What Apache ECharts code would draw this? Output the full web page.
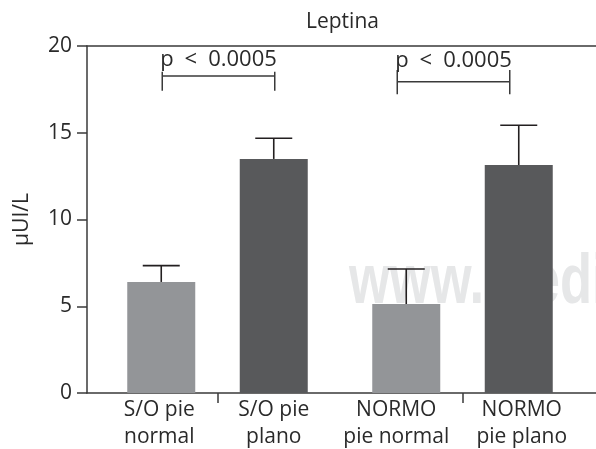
<!DOCTYPE html>
<html><head><meta charset="utf-8">
<script src="https://cdn.jsdelivr.net/npm/echarts@6/dist/echarts.min.js"></script>
<style>html,body{margin:0;padding:0;background:#fff}#c{width:596px;height:449px}</style>
</head><body><div id="c"></div>
<script>
// ---- data ----
const groups = ['S/O', 'NORMO'];
const seriesNames = ['pie normal', 'pie plano'];
const labelsNormal = ['S/O pie\nnormal', 'NORMO\npie normal'];
const labelsPlano = ['S/O pie\nplano', 'NORMO\npie plano'];
const meanNormal = [6.40, 5.13];
const meanPlano = [13.49, 13.14];
const sdNormal = [0.94, 2.02];
const sdPlano = [1.19, 2.29];
const yMin = 0, yMax = 20, yStep = 5;
const pTexts = ['p\u2002<\u20020.0005', 'p\u2002<\u20020.0005'];
const bracketTop = [18.52, 18.62];
const bracketMid = [18.27, 17.94];
const bracketBottom = [17.42, 17.22];
const pTextLevel = [19.2, 19.15];
const titleText = 'Leptina';
const yName = 'μUI/L';
const watermark = 'www.medigraphic.org.mx';

// ---- style / layout ----
const FONT = '"Open Sans", "Noto Sans", sans-serif';
const TXT = '#2a2a2a';
const AX = '#3a3a3a';
const BAR_W = 68, GAP_PX = 44.5, HALF = (BAR_W + GAP_PX) / 2, CAP = 37;
const colors = ['#939598', '#58595b'];
const bracketShift = [1, -9];
const labelShiftNormal = [-2, -10];
const labelShiftPlano = [0, 3];

const chart = echarts.init(document.getElementById('c'), null, {renderer: 'canvas'});

const errData = [];
for (let i = 0; i < groups.length; i++) {
  errData.push([i, meanNormal[i], sdNormal[i], -1]);
  errData.push([i, meanPlano[i], sdPlano[i], 1]);
}
const brData = groups.map((g, i) => [i, bracketTop[i], bracketMid[i], bracketBottom[i], pTextLevel[i]]);
const barItems = (vals, shifts) => vals.map((v, i) => ({value: v, label: {offset: [shifts[i], 0]}}));

const lineStyle = {stroke: '#231f20', lineWidth: 1.6};
const labelBase = {show: true, position: 'bottom', distance: 4, fontSize: 21, lineHeight: 27,
  color: TXT, fontFamily: FONT};

const option = {
  animation: false,
  backgroundColor: '#fff',
  title: {text: titleText, left: 301, top: 7,
    textStyle: {fontSize: 21, fontWeight: 'normal', color: TXT, fontFamily: FONT}},
  graphic: [{
    type: 'text', x: 349, y: 319, z: -10, scaleX: 1.05, scaleY: 1.42,
    style: {text: watermark, font: 'bold 50px "Liberation Sans", Arial, sans-serif',
      fill: '#e6e7e8', verticalAlign: 'bottom', align: 'left'}
  }],
  grid: [
    {left: 87, right: 0, top: 46, bottom: 56},
    {left: 95, right: 11, top: 46, bottom: 56}
  ],
  xAxis: [
    {gridIndex: 0, type: 'value', min: 0, max: 1, position: 'bottom',
      axisLine: {show: true, lineStyle: {color: AX, width: 1.5}},
      axisTick: {show: false}, axisLabel: {show: false}, splitLine: {show: false}},
    {gridIndex: 0, type: 'value', min: 0, max: 1, position: 'top',
      axisLine: {show: true, lineStyle: {color: AX, width: 1.5}},
      axisTick: {show: false}, axisLabel: {show: false}, splitLine: {show: false}},
    {gridIndex: 1, type: 'category', data: groups, position: 'bottom',
      axisLine: {show: false},
      axisTick: {show: true, alignWithLabel: true, length: 10, lineStyle: {color: AX, width: 1.5}},
      axisLabel: {show: false}, splitLine: {show: false}}
  ],
  yAxis: [
    {gridIndex: 0, type: 'value', min: yMin, max: yMax, interval: yStep,
      name: yName, nameLocation: 'middle', nameGap: 54,
      nameTextStyle: {fontSize: 21, color: TXT, fontFamily: FONT},
      axisLine: {show: true, lineStyle: {color: AX, width: 1.5}},
      axisTick: {show: true, length: 10, lineStyle: {color: AX, width: 1.5}},
      axisLabel: {fontSize: 21, color: TXT, fontFamily: FONT, margin: 15},
      splitLine: {show: false}},
    {gridIndex: 1, type: 'value', min: yMin, max: yMax, show: false}
  ],
  series: [
    {type: 'bar', name: seriesNames[0], xAxisIndex: 2, yAxisIndex: 1,
      data: barItems(meanNormal, labelShiftNormal), barWidth: BAR_W, barGap: (GAP_PX / BAR_W * 100) + '%',
      itemStyle: {color: colors[0]},
      label: Object.assign({}, labelBase, {formatter: p => labelsNormal[p.dataIndex]})},
    {type: 'bar', name: seriesNames[1], xAxisIndex: 2, yAxisIndex: 1,
      data: barItems(meanPlano, labelShiftPlano), barWidth: BAR_W, barGap: (GAP_PX / BAR_W * 100) + '%',
      itemStyle: {color: colors[1]},
      label: Object.assign({}, labelBase, {formatter: p => labelsPlano[p.dataIndex]})},
    {type: 'custom', name: 'error', xAxisIndex: 2, yAxisIndex: 1, z: 3, data: errData,
      renderItem(params, api) {
        const c = api.coord([api.value(0), api.value(1)]);
        const t = api.coord([api.value(0), api.value(1) + api.value(2)]);
        const x = c[0] + api.value(3) * HALF;
        return {type: 'group', children: [
          {type: 'line', shape: {x1: x, y1: c[1], x2: x, y2: t[1]}, style: lineStyle},
          {type: 'line', shape: {x1: x - CAP / 2, y1: t[1], x2: x + CAP / 2, y2: t[1]}, style: lineStyle}
        ]};
      }},
    {type: 'custom', name: 'brackets', xAxisIndex: 2, yAxisIndex: 1, z: 3, data: brData,
      renderItem(params, api) {
        const i = params.dataIndex;
        const cx = api.coord([api.value(0), 0])[0] + bracketShift[i];
        const yT = api.coord([api.value(0), api.value(1)])[1];
        const yM = api.coord([api.value(0), api.value(2)])[1];
        const yB = api.coord([api.value(0), api.value(3)])[1];
        const yTx = api.coord([api.value(0), api.value(4)])[1];
        const xl = cx - HALF, xr = cx + HALF;
        return {type: 'group', children: [
          {type: 'line', shape: {x1: xl, y1: yM, x2: xr, y2: yM}, style: {stroke: AX, lineWidth: 1.5}},
          {type: 'line', shape: {x1: xl, y1: yT, x2: xl, y2: yB}, style: {stroke: AX, lineWidth: 1.5}},
          {type: 'line', shape: {x1: xr, y1: yT, x2: xr, y2: yB}, style: {stroke: AX, lineWidth: 1.5}},
          {type: 'text', x: cx, y: yTx, style: {text: pTexts[i], fill: TXT,
            font: '22px ' + FONT, align: 'center', verticalAlign: 'middle'}}
        ]};
      }}
  ]
};
chart.setOption(option);
</script>
</body></html>
